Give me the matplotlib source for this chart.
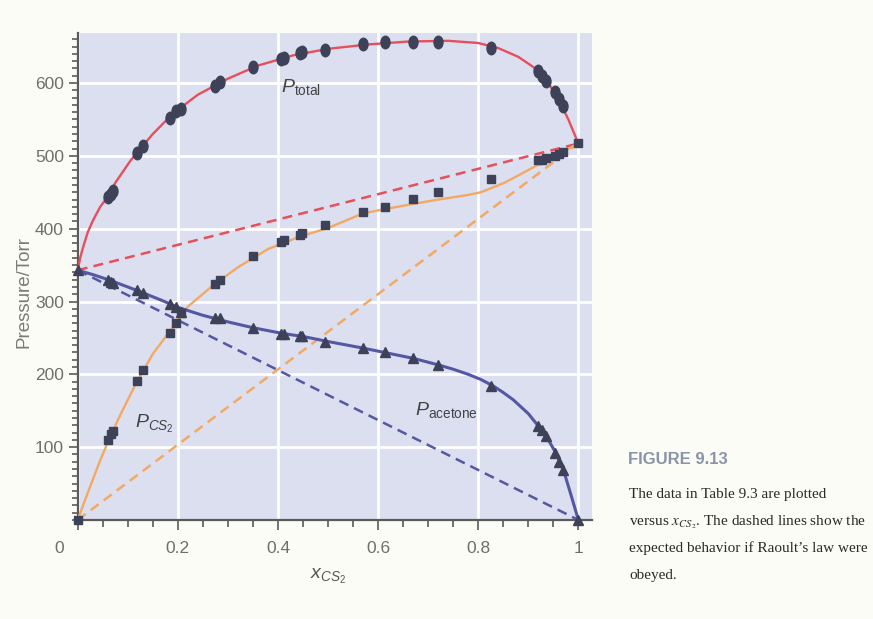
import numpy as np
import matplotlib
matplotlib.use("Agg")
import matplotlib.pyplot as plt
from matplotlib.ticker import MultipleLocator
from matplotlib.path import Path
from matplotlib.transforms import Affine2D, ScaledTranslation

# ---------------- data ----------------
# measured points (Table 9.3), shared mole fractions
x_cs2 = [0.0, 0.061, 0.066, 0.071, 0.119, 0.131, 0.184, 0.196, 0.206,
         0.274, 0.284, 0.351, 0.407, 0.413, 0.444, 0.448, 0.493, 0.570,
         0.613, 0.670, 0.720, 0.826, 0.919, 0.927, 0.936, 0.954, 0.962,
         0.969, 1.0]
p_total = [343, 443, 448, 452, 504, 513, 552, 561, 565,
           596, 602, 622, 633, 634, 641, 642, 646, 653,
           656, 657, 657, 648, 617, 610, 603, 588, 578,
           569, 517]
p_cs2 = [0, 110, 118, 122, 191, 206, 257, 271, 284,
         324, 330, 362, 382, 384, 391, 394, 405, 423,
         430, 441, 451, 468, 495, 495, 497, 500, 503,
         506, 517]
p_acetone = [343, 330, 327, 325, 316, 311, 297, 293, 286,
             277, 277, 263, 256, 255, 252, 253, 245, 236,
             230, 223, 213, 184, 129, 124, 115, 92, 80,
             69, 0]

# smooth curves drawn through the data
total_fit_x = [0, 0.005, 0.011, 0.02, 0.031, 0.045, 0.061, 0.075, 0.09, 0.105,
               0.12, 0.15, 0.19, 0.24, 0.3, 0.36, 0.43, 0.5, 0.58, 0.66,
               0.74, 0.8, 0.84, 0.88, 0.91, 0.94, 0.96, 0.98, 1.0]
total_fit = [343, 360, 375, 395, 412, 430, 445, 463, 478, 493,
             506, 530, 558, 584, 606, 624, 638, 647, 653, 657,
             658, 655, 648, 636, 622, 600, 578, 550, 517]

cs2_fit_x = [0, 0.015, 0.03, 0.045, 0.061, 0.08, 0.1, 0.12, 0.15, 0.185,
             0.22, 0.27, 0.32, 0.38, 0.443, 0.5, 0.57, 0.614, 0.67, 0.72,
             0.777, 0.805, 0.827, 0.852, 0.877, 0.92, 0.95, 0.975, 1.0]
cs2_fit = [0, 28, 55, 82, 108, 137, 165, 192, 228, 260,
           293, 322, 347, 372, 389, 401, 421, 427, 434, 440,
           446, 450, 456, 463, 472, 488, 499, 508, 517]

acetone_fit_x = [0, 0.03, 0.061, 0.1, 0.13, 0.17, 0.2, 0.25, 0.3, 0.35,
                 0.41, 0.45, 0.5, 0.57, 0.62, 0.67, 0.72, 0.75, 0.78, 0.805,
                 0.83, 0.85, 0.87, 0.9, 0.92, 0.94, 0.955, 0.97, 0.985, 1.0]
acetone_fit = [343, 337, 330, 320, 312, 301, 292, 281, 272, 264,
               256, 252, 245, 236, 229, 222, 213, 207, 200, 193,
               184, 175, 165, 146, 129, 110, 92, 69, 35, 0]

# Raoult's law ends (pure component vapour pressures)
raoult_x = [0, 1]
raoult_total = [343, 517]
raoult_cs2 = [0, 517]
raoult_acetone = [343, 0]

x_ticks = [0, 0.2, 0.4, 0.6, 0.8, 1.0]
x_ticklabels = ["0", "0.2", "0.4", "0.6", "0.8", "1"]
y_ticks = [100, 200, 300, 400, 500, 600]

# ---------------- style ----------------
plt.rcParams["font.family"] = ["Liberation Sans Narrow", "Liberation Sans", "DejaVu Sans"]
plt.rcParams["mathtext.fontset"] = "custom"
plt.rcParams["mathtext.rm"] = "Liberation Sans"
plt.rcParams["mathtext.it"] = "Liberation Sans:italic"
plt.rcParams["mathtext.bf"] = "Liberation Sans:bold"

PAGE = "#fcfcf6"
PANEL = "#dcdff0"
RED = "#e5505c"
ORANGE = "#f2a963"
BLUE = "#5457a2"
MARK = "#3d4259"
AXIS = "#5a5a5a"
TICKTXT = "#6e6e6e"

fig = plt.figure(figsize=(8.73, 6.19), dpi=100, facecolor=PAGE)
ax = fig.add_axes([0.089, 0.160, 0.589, 0.787])
ax.set_facecolor(PANEL)
ax.set_xlim(0, 1.027)
ax.set_ylim(0, 669)

# grid
ax.set_xticks(x_ticks)
ax.set_xticklabels(x_ticklabels)
ax.set_yticks(y_ticks)
ax.xaxis.set_minor_locator(MultipleLocator(0.05))
ax.yaxis.set_minor_locator(MultipleLocator(10))
ax.grid(True, which="major", color="white", linewidth=2)
ax.set_axisbelow(True)

for s in ["top", "right"]:
    ax.spines[s].set_visible(False)
for s in ["left", "bottom"]:
    ax.spines[s].set_color(AXIS)
    ax.spines[s].set_linewidth(1.6)

ax.tick_params(axis="x", which="major", length=7, width=1.2, color=AXIS,
               labelsize=12.5, labelcolor=TICKTXT, pad=8)
ax.tick_params(axis="x", which="minor", length=5, width=1.2, color=AXIS)
ax.tick_params(axis="y", which="major", length=6.5, width=1.2, color=AXIS,
               labelsize=12.5, labelcolor=TICKTXT, pad=3.5)
ax.tick_params(axis="y", which="minor", length=4, width=1.2, color=AXIS)

# Raoult's law dashed lines
dash = (4, 2.5)
ax.plot(raoult_x, raoult_total, color=RED, lw=1.8, dashes=dash, zorder=2.6)
ax.plot(raoult_x, raoult_cs2, color=ORANGE, lw=1.8, dashes=dash, zorder=2.6)
ax.plot(raoult_x, raoult_acetone, color=BLUE, lw=1.8, dashes=dash, zorder=2.6)

# fitted curves
ax.plot(total_fit_x, total_fit, color=RED, lw=1.7, zorder=3)
ax.plot(cs2_fit_x, cs2_fit, color=ORANGE, lw=1.7, zorder=3)
ax.plot(acetone_fit_x, acetone_fit, color=BLUE, lw=2.2, zorder=3)

# measured points
ellipse = Path.unit_circle().transformed(Affine2D().scale(0.72, 1.0))
ax.plot(x_cs2[1:-1], p_total[1:-1], ls="none", marker=ellipse, ms=9,
        color=MARK, zorder=5, clip_on=False)
ax.plot(x_cs2, p_cs2, ls="none", marker="s", ms=6.3, color=MARK,
        zorder=5, clip_on=False)
ax.plot(x_cs2, p_acetone, ls="none", marker="^", ms=7, color=MARK,
        zorder=5, clip_on=False)

# curve labels
ax.text(0.407, 588, r"$P_{\mathrm{total}}$", fontsize=14, color="#444444")
ax.text(0.114, 126, r"$P_{CS_2}$", fontsize=14, color="#444444")
ax.text(0.673, 144, r"$P_{\mathrm{acetone}}$", fontsize=14, color="#444444")

ax.set_xlabel(r"$x_{CS_2}$", fontsize=14, color="#555555")
ax.xaxis.set_label_coords(0.488, -0.096)
ax.set_ylabel("Pressure/Torr", fontsize=13.5, color="#7a7a7a",
              family="Liberation Sans")
ax.yaxis.set_label_coords(-0.087, 0.467)

# the "0" sits at the corner, left of the tick
lbl0 = ax.get_xticklabels()[0]
lbl0.set_transform(lbl0.get_transform() +
                   ScaledTranslation(-0.19, 0, fig.dpi_scale_trans))

# caption
fig.text(0.7195, 0.2504, "FIGURE 9.13", fontsize=12, weight="bold",
         color="#8a94a8")
caption = [
    "The data in Table 9.3 are plotted",
    r"versus $x_{CS_2}$. The dashed lines show the",
    "expected behavior if Raoult\u2019s law were",
    "obeyed.",
]
for i, line in enumerate(caption):
    fig.text(0.7205, 0.1955 - i * 0.0437, line, family="Liberation Serif",
             fontsize=11, color="#2a2a2a", math_fontfamily="stix")

fig.savefig("out.png", dpi=100, facecolor=PAGE)
